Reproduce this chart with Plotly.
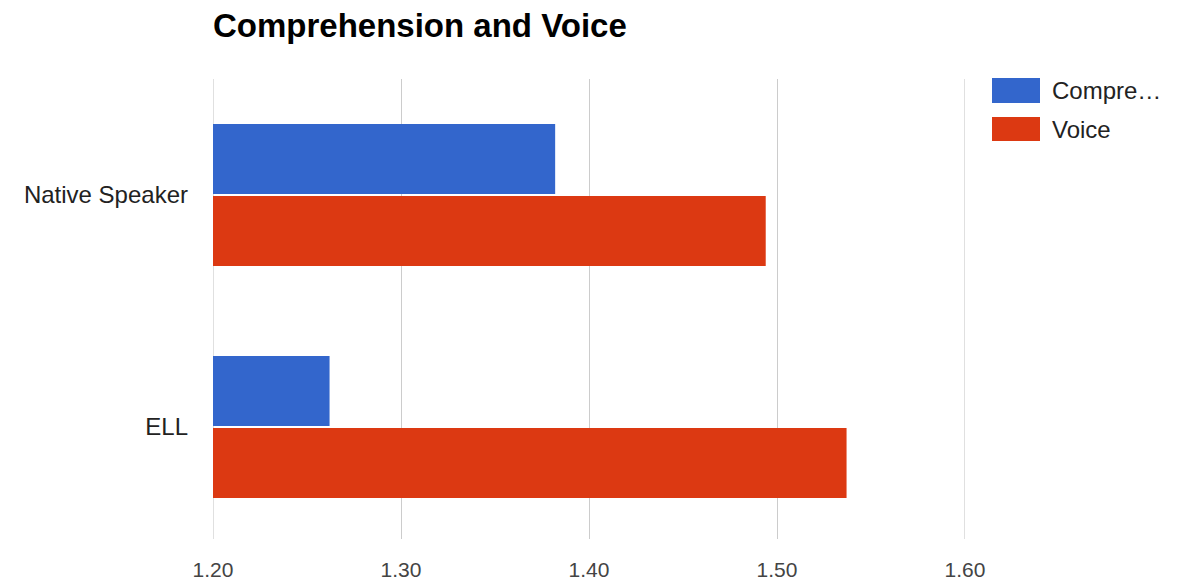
import plotly.graph_objects as go

categories = ["Native Speaker", "ELL"]
comprehension = [1.382, 1.262]
voice = [1.494, 1.537]
series_names = ["Compre…", "Voice"]
x_ticks = [1.2, 1.3, 1.4, 1.5, 1.6]
x_tick_labels = ["1.20", "1.30", "1.40", "1.50", "1.60"]

BLUE = "#3366cc"
RED = "#dc3912"
GRID = "#cccccc"
FONT = "Liberation Sans, Arial, sans-serif"

fig = go.Figure()
fig.add_trace(go.Bar(y=categories, x=comprehension, orientation="h", name=series_names[0],
                     marker=dict(color=BLUE, line=dict(width=0)), base=0, showlegend=False))
fig.add_trace(go.Bar(y=categories, x=voice, orientation="h", name=series_names[1],
                     marker=dict(color=RED, line=dict(width=0)), base=0, showlegend=False))

W, H = 1179, 583
L, R, T, B = 213, 214, 79, 44
PH = H - T - B  # plot height
CAT_PX = 232    # pixels per category

fig.update_layout(
    width=W, height=H,
    margin=dict(l=L, r=R, t=T, b=B, pad=0, autoexpand=False),
    paper_bgcolor="white", plot_bgcolor="white",
    barmode="group", bargap=0.379, bargroupgap=0.03,
    font=dict(family=FONT, color="#222222"),
    title=dict(text="<b>Comprehension and Voice</b>", font=dict(size=33, color="#000000", family=FONT),
               xref="paper", x=0, xanchor="left", yref="container", y=1 - 25 / H, yanchor="middle"),
    xaxis=dict(range=[1.2, 1.6], tickvals=x_ticks, ticktext=x_tick_labels,
               showgrid=True, gridcolor=GRID, gridwidth=1.2, zeroline=False, showline=False,
               tickfont=dict(size=21, color="#444444"), ticks="", ticklabelstandoff=16,
               automargin=False, fixedrange=True),
    yaxis=dict(range=[-0.5 + PH / CAT_PX, -0.5], showgrid=False, zeroline=False, showline=False,
               tickfont=dict(size=24, color="#222222"), ticks="", ticklabelstandoff=24,
               automargin=False, fixedrange=True),
)

# edge gridlines (plotly hides grid lines at the range ends)
for xv in (x_ticks[0], x_ticks[-1]):
    fig.add_shape(type="line", xref="x", yref="paper", x0=xv, x1=xv, y0=0, y1=1,
                  line=dict(color=GRID, width=1.2), layer="below")

# legend drawn as swatches + text
legend_items = [(series_names[0], BLUE, 78, 103), (series_names[1], RED, 117, 141)]
for name, color, y0, y1 in legend_items:
    fig.add_shape(type="rect", xref="paper", yref="paper",
                  x0=(992 - L) / (W - L - R), x1=(1040 - L) / (W - L - R),
                  y0=1 - (y0 - T) / PH, y1=1 - (y1 - T) / PH,
                  fillcolor=color, line=dict(width=0), layer="above")
    fig.add_annotation(xref="paper", yref="paper", x=(1050 - L) / (W - L - R),
                       y=1 - ((y0 + y1) / 2 - T) / PH,
                       text=name, showarrow=False, xanchor="left", yanchor="middle",
                       font=dict(size=24, color="#222222", family=FONT))

fig.write_html("out.html")
